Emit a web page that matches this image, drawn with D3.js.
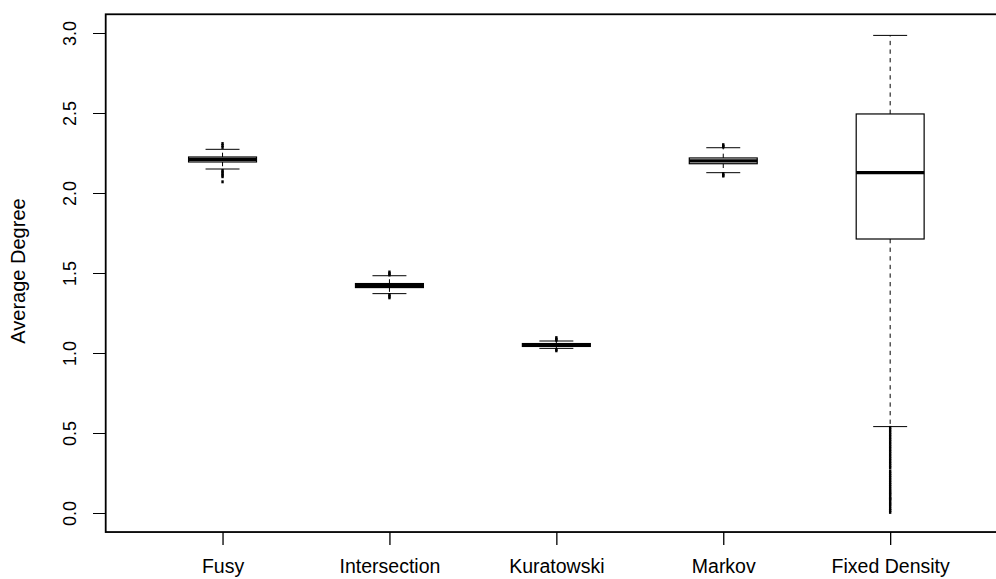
<!DOCTYPE html>
<html>
<head>
<meta charset="utf-8">
<script src="https://cdn.jsdelivr.net/npm/d3@7"></script>
<style>
  html, body { margin: 0; padding: 0; background: #fff; }
  svg { display: block; }
  text { font-family: "Liberation Sans", Arial, Helvetica, sans-serif; fill: #000; }
</style>
</head>
<body>
<svg id="chart" width="996" height="579"></svg>
<script>
// ---- data ----
const categories  = ["Fusy", "Intersection", "Kuratowski", "Markov", "Fixed Density"];
const whiskerLow  = [2.150, 1.371, 1.029, 2.127, 0.540];
const q1          = [2.194, 1.409, 1.041, 2.183, 1.7125];
const median      = [2.210, 1.423, 1.050, 2.201, 2.127];
const q3          = [2.225, 1.434, 1.059, 2.219, 2.494];
const whiskerHigh = [2.273, 1.483, 1.075, 2.283, 2.985];
const outliersFusy = [2.309, 2.297, 2.285, 2.141, 2.131, 2.121, 2.111, 2.102, 2.070];
const outliersIntersection = [1.506, 1.496, 1.488, 1.365, 1.355, 1.345];
const outliersKuratowski = [1.096, 1.086, 1.080, 1.022, 1.014];
const outliersMarkov = [2.302, 2.293, 2.288, 2.121, 2.111, 2.106];
const outliersFixedDensity = [
  0.535, 0.520, 0.505, 0.490, 0.475, 0.460, 0.445, 0.430, 0.415, 0.400,
  0.385, 0.370, 0.355, 0.340, 0.325, 0.310, 0.295, 0.282,
  0.262, 0.248, 0.234, 0.220, 0.206, 0.192, 0.178, 0.164, 0.150,
  0.137, 0.125, 0.115,
  0.100, 0.090, 0.083,
  0.068, 0.056, 0.044,
  0.028, 0.016, 0.004
];
const outliers = [outliersFusy, outliersIntersection, outliersKuratowski, outliersMarkov, outliersFixedDensity];
const yTicks = [0.0, 0.5, 1.0, 1.5, 2.0, 2.5, 3.0];
const yTitle = "Average Degree";

// ---- layout ----
const svg = d3.select("#chart");
const x = d3.scaleLinear().domain([0.3, 5.7]).range([105.7, 1007]);
const y = d3.scaleLinear().domain([0, 3]).range([513, 33]);
const boxHalf = 0.2035;      // in x units
const capHalf = boxHalf / 2;
const frameTop = y(3.117), frameBottom = y(-0.119);

// y axis
const yAxis = d3.axisLeft(y).tickValues(yTicks).tickSize(12.7).tickFormat(d3.format(".1f"));
const gy = svg.append("g").attr("transform", `translate(${x(0.3)},0)`).call(yAxis);
gy.select(".domain").remove();
gy.selectAll(".tick line").attr("stroke", "#000").attr("stroke-width", 1);
gy.selectAll(".tick text")
  .attr("x", null).attr("dy", null)
  .attr("transform", "translate(-29.5,0) rotate(-90)")
  .attr("text-anchor", "middle")
  .attr("dominant-baseline", "auto")
  .style("font-size", "18px")
  .style("font-family", "'Liberation Sans', Arial, sans-serif");

// x axis
const xAxis = d3.axisBottom(x).tickValues(categories.map((c, i) => i + 1))
  .tickSize(13).tickFormat((d) => categories[d - 1]);
const gx = svg.append("g").attr("transform", `translate(0,${frameBottom})`).call(xAxis);
gx.select(".domain").remove();
gx.selectAll(".tick line").attr("stroke", "#000").attr("stroke-width", 1.3);
gx.selectAll(".tick text")
  .attr("y", 573.5 - frameBottom).attr("dy", null)
  .attr("dominant-baseline", "auto")
  .style("font-size", "19.5px")
  .style("font-family", "'Liberation Sans', Arial, sans-serif");

// y title
svg.append("text")
  .attr("transform", `translate(25,${(y(0) + y(3)) / 2 - 2}) rotate(-90)`)
  .attr("text-anchor", "middle")
  .style("font-size", "20px")
  .text(yTitle);

// boxes
const g = svg.append("g");
categories.forEach((c, i) => {
  const cx = x(i + 1);
  const half = x(i + 1 + boxHalf) - cx;
  const cap = x(i + 1 + capHalf) - cx;
  // whiskers (dashed)
  g.append("line").attr("x1", cx).attr("x2", cx).attr("y1", y(q3[i])).attr("y2", y(whiskerHigh[i]))
    .attr("stroke", "#000").attr("stroke-width", 1).attr("stroke-dasharray", "4.3,4.3");
  g.append("line").attr("x1", cx).attr("x2", cx).attr("y1", y(q1[i])).attr("y2", y(whiskerLow[i]))
    .attr("stroke", "#000").attr("stroke-width", 1).attr("stroke-dasharray", "4.3,4.3");
  // caps
  [whiskerHigh[i], whiskerLow[i]].forEach((v) => {
    g.append("line").attr("x1", cx - cap).attr("x2", cx + cap).attr("y1", y(v)).attr("y2", y(v))
      .attr("stroke", "#000").attr("stroke-width", 1);
  });
  // box
  g.append("rect").attr("x", cx - half).attr("width", 2 * half)
    .attr("y", y(q3[i])).attr("height", y(q1[i]) - y(q3[i]))
    .attr("fill", "#fff").attr("stroke", "#000").attr("stroke-width", 1.2);
  // median
  g.append("line").attr("x1", cx - half).attr("x2", cx + half).attr("y1", y(median[i])).attr("y2", y(median[i]))
    .attr("stroke", "#000").attr("stroke-width", 3.2);
  // outliers
  g.selectAll(null).data(outliers[i]).enter().append("rect")
    .attr("x", cx - 1.2).attr("width", 2.4)
    .attr("y", (d) => y(d) - 1.5).attr("height", 3)
    .attr("fill", "#000");
});

// frame
svg.append("rect")
  .attr("x", x(0.3)).attr("y", frameTop)
  .attr("width", x(5.7) - x(0.3)).attr("height", frameBottom - frameTop)
  .attr("fill", "none").attr("stroke", "#000").attr("stroke-width", 1.8);
</script>
</body>
</html>
